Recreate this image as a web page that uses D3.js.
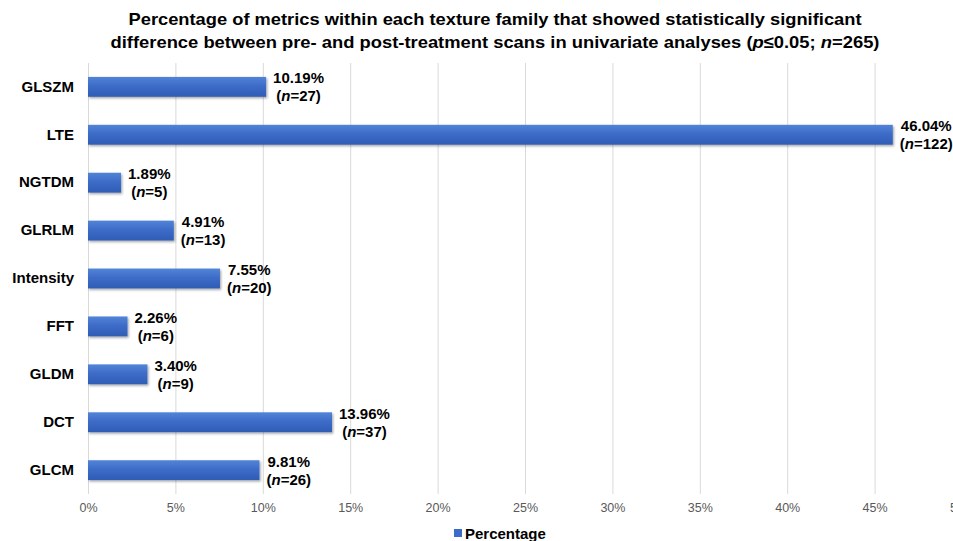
<!DOCTYPE html>
<html>
<head>
<meta charset="utf-8">
<script src="https://cdn.jsdelivr.net/npm/d3@7/dist/d3.min.js"></script>
<style>
  html, body { margin: 0; padding: 0; background: #fff; overflow: hidden; }
  svg { display: block; }
</style>
</head>
<body>
<svg id="chart" width="953" height="541"></svg>
<script>
// Texture families, top to bottom
const categories = ["GLSZM", "LTE", "NGTDM", "GLRLM", "Intensity", "FFT", "GLDM", "DCT", "GLCM"];
// Share of metrics with a significant pre/post difference (%)
const percentages = [10.19, 46.04, 1.89, 4.91, 7.55, 2.26, 3.40, 13.96, 9.81];
// Number of significant metrics per family
const counts = [27, 122, 5, 13, 20, 6, 9, 37, 26];
const xTicks = [0, 5, 10, 15, 20, 25, 30, 35, 40, 45, 50];
const titleLines = [
  "Percentage of metrics within each texture family that showed statistically significant",
  "difference between pre- and post-treatment scans in univariate analyses (p\u22640.05; n=265)"
];
const seriesName = "Percentage";

const svg = d3.select("#chart");
const font = "'Liberation Sans', Arial, sans-serif";

const plotLeft = 88, plotRight = 962, plotTop = 63, plotBottom = 494;

const x = d3.scaleLinear().domain([0, 50]).range([plotLeft, plotRight]);
const y = d3.scaleBand().domain(categories).range([plotTop, plotBottom]).paddingInner(0.585).paddingOuter(0.29);

// Bar gradient and drop shadow
const defs = svg.append("defs");
const grad = defs.append("linearGradient").attr("id", "barGrad").attr("x1", 0).attr("y1", 0).attr("x2", 0).attr("y2", 1);
grad.append("stop").attr("offset", "0%").attr("stop-color", "#5284d8");
grad.append("stop").attr("offset", "45%").attr("stop-color", "#3d6cc8");
grad.append("stop").attr("offset", "100%").attr("stop-color", "#2f5cb4");
const shadow = defs.append("filter").attr("id", "shadow").attr("x", "-5%").attr("y", "-20%").attr("width", "115%").attr("height", "160%");
shadow.append("feDropShadow").attr("dx", 1.2).attr("dy", 1.5).attr("stdDeviation", 1).attr("flood-color", "#000").attr("flood-opacity", 0.35);

// Title
const title = svg.append("text")
  .attr("x", 495).attr("text-anchor", "middle")
  .attr("font-family", font).attr("font-weight", "bold").attr("font-size", 17)
  .attr("fill", "#000");
title.append("tspan").attr("x", 495).attr("y", 25)
  .attr("textLength", 733).attr("lengthAdjust", "spacingAndGlyphs")
  .text(titleLines[0]);
const l2 = title.append("tspan").attr("x", 495).attr("y", 48)
  .attr("textLength", 769).attr("lengthAdjust", "spacingAndGlyphs");
// Second line with italic p and n
const parts = [
  {t: "difference between pre- and post-treatment scans in univariate analyses (", i: false},
  {t: "p", i: true},
  {t: "\u22640.05; ", i: false},
  {t: "n", i: true},
  {t: "=265)", i: false}
];
parts.forEach(p => l2.append("tspan").attr("font-style", p.i ? "italic" : "normal").text(p.t));

// Vertical gridlines
svg.append("g").selectAll("line").data(xTicks).join("line")
  .attr("x1", d => x(d) + 0.5).attr("x2", d => x(d) + 0.5)
  .attr("y1", plotTop).attr("y2", plotBottom)
  .attr("stroke", "#d9d9d9").attr("stroke-width", 1);

// X axis tick labels
const xAxis = d3.axisBottom(x).tickValues(xTicks).tickFormat(d => d + "%").tickSize(0).tickPadding(9);
const gx = svg.append("g").attr("transform", `translate(0,${plotBottom})`).call(xAxis);
gx.select(".domain").remove();
gx.selectAll("text").attr("font-family", font).attr("font-size", 12.5).attr("fill", "#595959");

// Y axis category labels
const yAxis = d3.axisLeft(y).tickSize(0).tickPadding(14);
const gy = svg.append("g").attr("transform", `translate(${plotLeft},0)`).call(yAxis);
gy.select(".domain").remove();
gy.selectAll("text").attr("font-family", font).attr("font-size", 15).attr("font-weight", "bold").attr("fill", "#000");

const data = categories.map((c, i) => ({cat: c, pct: percentages[i], n: counts[i]}));

// Bars
svg.append("g").selectAll("rect").data(data).join("rect")
  .attr("x", x(0)).attr("y", d => y(d.cat))
  .attr("width", d => x(d.pct) - x(0)).attr("height", y.bandwidth())
  .attr("fill", "url(#barGrad)").attr("filter", "url(#shadow)");

// Value labels, two centred lines
const labels = svg.append("g").selectAll("g").data(data).join("g");
labels.each(function(d) {
  const g = d3.select(this);
  const cy = y(d.cat) + y.bandwidth() / 2;
  const t1 = g.append("text").attr("font-family", font).attr("font-size", 15).attr("font-weight", "bold")
    .attr("text-anchor", "middle").attr("y", cy - 3.5).text(d.pct.toFixed(2) + "%");
  const t2 = g.append("text").attr("font-family", font).attr("font-size", 15).attr("font-weight", "bold")
    .attr("text-anchor", "middle").attr("y", cy + 14.5);
  t2.append("tspan").text("(");
  t2.append("tspan").attr("font-style", "italic").text("n");
  t2.append("tspan").text("=" + d.n + ")");
  const w = Math.max(t1.node().getComputedTextLength(), t2.node().getComputedTextLength());
  const cx = x(d.pct) + 7 + w / 2;
  t1.attr("x", cx); t2.attr("x", cx);
});

// Legend
const legend = svg.append("g");
legend.append("rect").attr("x", 454).attr("y", 529).attr("width", 8).attr("height", 8).attr("fill", "#3d6cc8");
legend.append("text").attr("x", 465).attr("y", 539).attr("font-family", font).attr("font-size", 15)
  .attr("font-weight", "bold").attr("fill", "#000").text(seriesName);
</script>
</body>
</html>
